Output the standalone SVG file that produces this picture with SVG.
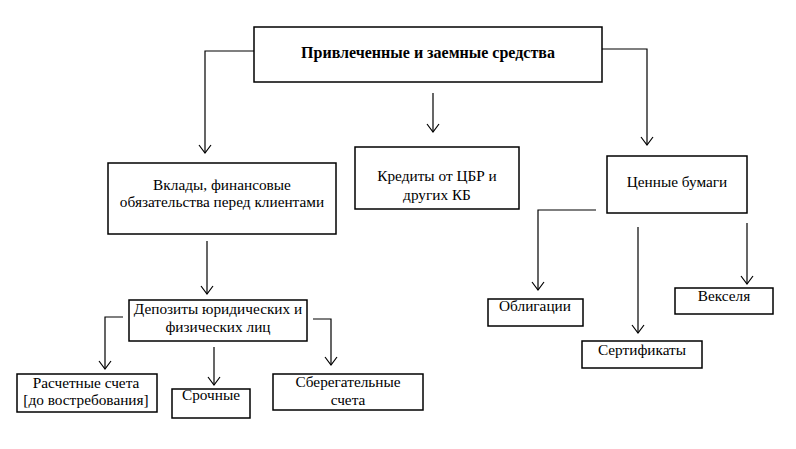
<svg xmlns="http://www.w3.org/2000/svg" width="796" height="449" viewBox="0 0 796 449">
<defs>
<style>
.box{fill:#fff;stroke:#000;stroke-width:1.5}
.t{font-family:'Liberation Serif','Times New Roman',serif;font-size:15.3px;fill:#000;text-anchor:middle}
.b{font-weight:bold;font-size:16px}
.c{fill:none;stroke:#000;stroke-width:1.2}
</style>
</defs>
<rect width="796" height="449" fill="#fff"/>
<g id="connectors">
<polyline class="c" points="254,51 205,51 205,153"/>
<polyline class="c" points="602,49 647,49 647,145"/>
<line class="c" x1="433" y1="93" x2="433" y2="132"/>
<polyline class="c" points="596,210 538,210 538,290"/>
<line class="c" x1="638" y1="227" x2="638" y2="333"/>
<line class="c" x1="747" y1="223" x2="747" y2="284"/>
<line class="c" x1="207" y1="241" x2="207" y2="294"/>
<polyline class="c" points="123,317 105,317 105,369"/>
<line class="c" x1="214" y1="347" x2="214" y2="385"/>
<polyline class="c" points="313,319 331,319 331,365"/>
</g>
<g id="arrowheads" fill="none" stroke="#000" stroke-width="1.2">
<polyline points="199,145 205,153 211,145"/>
<polyline points="641,137 647,145 653,137"/>
<polyline points="427,124 433,132 439,124"/>
<polyline points="532,282 538,290 544,282"/>
<polyline points="632,325 638,333 644,325"/>
<polyline points="741,276 747,284 753,276"/>
<polyline points="201,286 207,294 213,286"/>
<polyline points="99,361 105,369 111,361"/>
<polyline points="208,377 214,385 220,377"/>
<polyline points="325,357 331,365 337,357"/>
</g>
<g id="n-main">
<rect class="box" x="254" y="27" width="348" height="55"/>
<text class="t b" x="428" y="58">Привлеченные и заемные средства</text>
</g>
<g id="n-vklady">
<rect class="box" x="108" y="163" width="228" height="71"/>
<text class="t" x="222" y="190">Вклады, финансовые</text>
<text class="t" x="222" y="207">обязательства перед клиентами</text>
</g>
<g id="n-kredity">
<rect class="box" x="355" y="147" width="164" height="62"/>
<text class="t" x="437" y="181">Кредиты от ЦБР и</text>
<text class="t" x="437" y="200">других КБ</text>
</g>
<g id="n-cennye">
<rect class="box" x="607" y="156" width="140" height="57"/>
<text class="t" x="677" y="187">Ценные бумаги</text>
</g>
<g id="n-obligacii">
<rect class="box" x="488" y="299" width="95" height="27"/>
<text class="t" x="535" y="311">Облигации</text>
</g>
<g id="n-sertifikaty">
<rect class="box" x="582" y="341" width="120" height="27"/>
<text class="t" x="642" y="355">Сертификаты</text>
</g>
<g id="n-vekselya">
<rect class="box" x="675" y="288" width="98" height="26"/>
<text class="t" x="724" y="301">Векселя</text>
</g>
<g id="n-depozity">
<rect class="box" x="129" y="300" width="178" height="41"/>
<text class="t" x="218" y="314">Депозиты юридических и</text>
<text class="t" x="218" y="332">физических лиц</text>
</g>
<g id="n-raschetnye">
<rect class="box" x="17" y="374" width="140" height="38"/>
<text class="t" x="86" y="388">Расчетные счета</text>
<text class="t" x="86" y="405">[до востребования]</text>
</g>
<g id="n-srochnye">
<rect class="box" x="172" y="389" width="78" height="29"/>
<text class="t" x="211" y="400">Срочные</text>
</g>
<g id="n-sberegatelnye">
<rect class="box" x="273" y="374" width="150" height="36"/>
<text class="t" x="348" y="387">Сберегательные</text>
<text class="t" x="348" y="405">счета</text>
</g>
</svg>
